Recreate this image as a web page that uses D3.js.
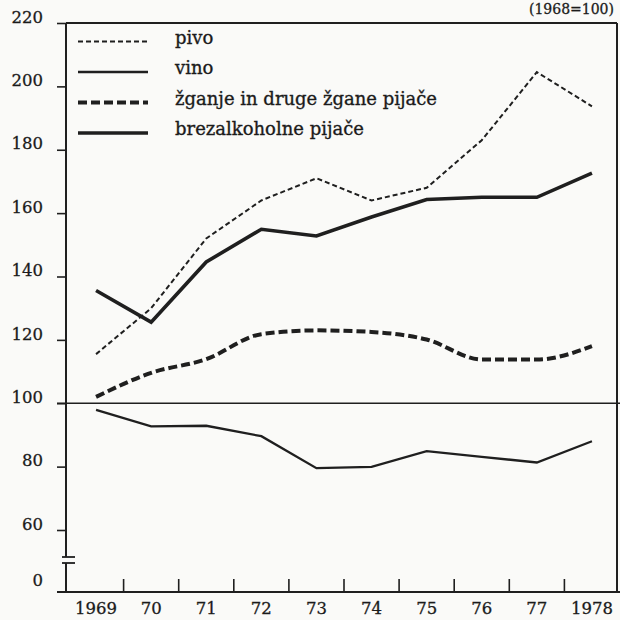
<!DOCTYPE html>
<html>
<head>
<meta charset="utf-8">
<script src="https://cdn.jsdelivr.net/npm/d3@7"></script>
<style>
  body { margin: 0; background: #fafaf8; }
  svg { display: block; }
  text { font-family: "DejaVu Serif", "Liberation Serif", serif; fill: #1a1a1a; }
</style>
</head>
<body>
<div id="chart"></div>
<script>
// index, 1968 = 100
var years = [1969, 1970, 1971, 1972, 1973, 1974, 1975, 1976, 1977, 1978];
var yearLabels = ["1969", "70", "71", "72", "73", "74", "75", "76", "77", "1978"];
var pivo = [115.5, 130, 152, 164, 171, 164, 168, 183, 204.5, 193.7];
var vino = [97.9, 92.7, 92.9, 89.6, 79.5, 79.9, 84.9, 83.1, 81.3, 88];
var zganje = [102, 109.6, 113.9, 121.8, 123, 122.5, 120.1, 113.8, 113.8, 118];
var brezalk = [135.6, 125.6, 144.6, 154.9, 152.8, 158.8, 164.3, 165, 165, 172.6];
var yTicks = [60, 80, 100, 120, 140, 160, 180, 200, 220];
var seriesNames = ["pivo", "vino", "žganje in druge žgane pijače", "brezalkoholne pijače"];
var unitLabel = "(1968=100)";

var width = 620, height = 620;
var ink = "#1f1f1f";

var svg = d3.select("#chart")
    .append("svg")
    .attr("width", width)
    .attr("height", height);

var xScale = d3.scaleBand()
    .domain(years)
    .range([68.5, 619.5])
    .padding(0);

// broken axis: 0 sits on the base line, 60..220 on a linear stretch
var yScale = d3.scaleLinear()
    .domain([0, 60, 220])
    .range([592, 530, 23]);

var axisX = 66;
var right = 617;

function cx(i) {
    return xScale(years[i]) + xScale.bandwidth() / 2;
}

// y axis ticks and labels
var yAxis = d3.axisLeft(yScale)
    .tickValues(yTicks)
    .tickSize(9)
    .tickPadding(14);

var gy = svg.append("g")
    .attr("transform", "translate(" + axisX + ",0)")
    .call(yAxis);
gy.select(".domain").remove();
gy.selectAll(".tick line").attr("stroke", ink).attr("stroke-width", 1.6);
gy.selectAll(".tick text")
    .attr("dy", "-0.05em")
    .style("font-family", "'DejaVu Serif', serif")
    .style("font-size", "16.5px")
    .style("stroke", ink)
    .style("stroke-width", 0.3);

svg.append("text")
    .attr("x", axisX - 23)
    .attr("y", yScale(0) - 6)
    .attr("text-anchor", "end")
    .style("font-size", "16.5px")
    .style("stroke", ink)
    .style("stroke-width", 0.3)
    .text("0");

// y axis line with break
svg.append("line")
    .attr("x1", axisX).attr("x2", axisX)
    .attr("y1", yScale(220)).attr("y2", 557)
    .attr("stroke", ink).attr("stroke-width", 2);
svg.append("line")
    .attr("x1", axisX).attr("x2", axisX)
    .attr("y1", 563).attr("y2", yScale(0))
    .attr("stroke", ink).attr("stroke-width", 2);
[557, 563].forEach(function (yy) {
    svg.append("line")
        .attr("x1", axisX - 4).attr("x2", axisX + 9)
        .attr("y1", yy).attr("y2", yy)
        .attr("stroke", ink).attr("stroke-width", 1.8);
});

// frame: top and right
svg.append("line")
    .attr("x1", axisX).attr("x2", right)
    .attr("y1", yScale(220)).attr("y2", yScale(220))
    .attr("stroke", ink).attr("stroke-width", 2);
svg.append("line")
    .attr("x1", right).attr("x2", right)
    .attr("y1", yScale(220)).attr("y2", yScale(0))
    .attr("stroke", ink).attr("stroke-width", 2);

// 100 reference line
svg.append("line")
    .attr("x1", 57).attr("x2", width)
    .attr("y1", yScale(100)).attr("y2", yScale(100))
    .attr("stroke", ink).attr("stroke-width", 1.6);

// x axis
var xAxis = d3.axisBottom(xScale)
    .tickSize(0)
    .tickPadding(0)
    .tickFormat(function (d, i) { return yearLabels[i]; });

var gx = svg.append("g")
    .attr("transform", "translate(0," + yScale(0) + ")")
    .call(xAxis);
gx.select(".domain").remove();
gx.selectAll(".tick text")
    .attr("y", 22)
    .attr("dy", "0")
    .style("font-size", "16.5px")
    .style("stroke", ink)
    .style("stroke-width", 0.3);

svg.append("line")
    .attr("x1", 57).attr("x2", width)
    .attr("y1", yScale(0)).attr("y2", yScale(0))
    .attr("stroke", ink).attr("stroke-width", 2.2);

// ticks between the years
svg.selectAll(".xtick-mark")
    .data(years.slice(1))
    .enter()
    .append("line")
    .attr("class", "xtick-mark")
    .attr("x1", function (d) { return xScale(d); })
    .attr("x2", function (d) { return xScale(d); })
    .attr("y1", yScale(0))
    .attr("y2", yScale(0) - 13)
    .attr("stroke", ink)
    .attr("stroke-width", 1.6);

// series
var series = [
    { name: seriesNames[0], values: pivo, width: 2, dash: "5,3", curve: d3.curveLinear },
    { name: seriesNames[1], values: vino, width: 2.3, dash: null, curve: d3.curveLinear },
    { name: seriesNames[2], values: zganje, width: 4, dash: "9,4", curve: d3.curveMonotoneX },
    { name: seriesNames[3], values: brezalk, width: 3.6, dash: null, curve: d3.curveLinear }
];

series.forEach(function (s) {
    var line = d3.line()
        .x(function (d, i) { return cx(i); })
        .y(function (d) { return yScale(d); })
        .curve(s.curve);
    svg.append("path")
        .datum(s.values)
        .attr("d", line)
        .attr("fill", "none")
        .attr("stroke", ink)
        .attr("stroke-width", s.width)
        .attr("stroke-dasharray", s.dash);
});

// legend
var legend = svg.selectAll(".legend")
    .data(series)
    .enter()
    .append("g")
    .attr("class", "legend")
    .attr("transform", function (d, i) {
        return "translate(78," + (41.5 + i * 30.5) + ")";
    });

legend.append("line")
    .attr("x1", 0).attr("x2", 70)
    .attr("y1", 0).attr("y2", 0)
    .attr("stroke", ink)
    .attr("stroke-width", function (d) { return d.width; })
    .attr("stroke-dasharray", function (d) { return d.dash; });

legend.append("text")
    .attr("x", 97)
    .attr("y", 2)
    .style("font-size", "18px")
    .style("stroke", ink)
    .style("stroke-width", 0.35)
    .text(function (d) { return d.name; });

svg.append("text")
    .attr("x", 614)
    .attr("y", 14)
    .attr("text-anchor", "end")
    .style("font-size", "14px")
    .style("stroke", ink)
    .style("stroke-width", 0.3)
    .text(unitLabel);
</script>
</body>
</html>
